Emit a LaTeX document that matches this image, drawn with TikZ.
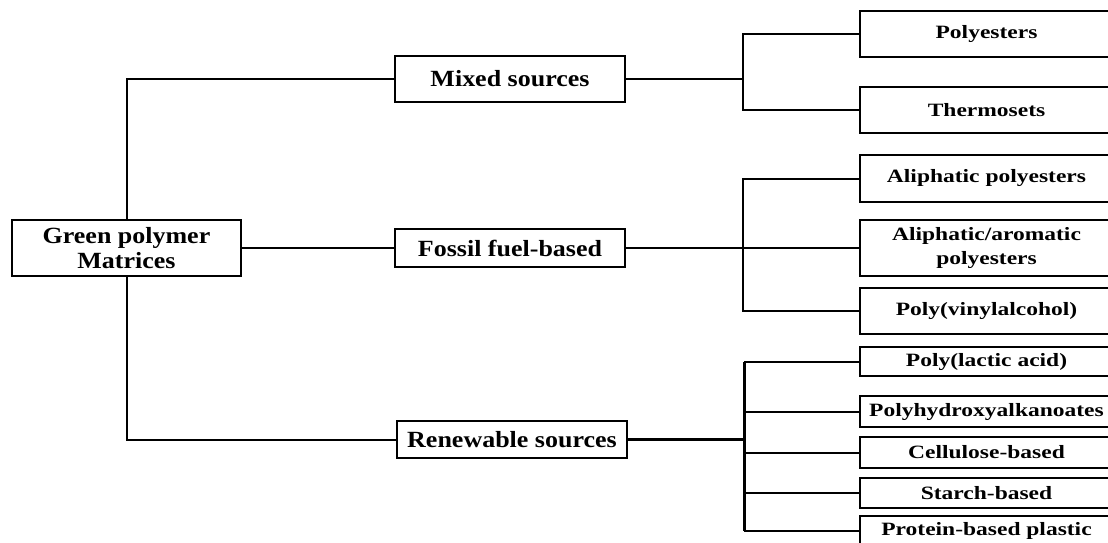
\documentclass[tikz,border=0pt]{standalone}
\usepackage{fontspec}
\setmainfont{Liberation Serif}
\newfontfamily\midfont{Liberation Serif}[FakeStretch=1.12]
\newfontfamily\rightfont{Liberation Serif}[FakeStretch=1.25]
\begin{document}
\begin{tikzpicture}[x=0.5pt,y=-0.5pt,
  box/.style={draw=black,line width=1pt,rectangle,inner sep=0pt,align=center,fill=white},
  leftbox/.style={box,minimum width=114.5pt,minimum height=28pt,font=\midfont\fontsize{11.6}{12.5}\selectfont\bfseries},
  midbox/.style={box,minimum width=115pt,font=\midfont\fontsize{11.6}{12.5}\selectfont\bfseries},
  rightbox/.style={box,minimum width=126.5pt,font=\rightfont\fontsize{9.4}{11.7}\selectfont\bfseries},
  conn/.style={line width=1pt},
  thickconn/.style={line width=1.5pt}]
\useasboundingbox (0,0) rectangle (1108,542);
\clip (0,0) rectangle (1108,542);
\fill[white] (0,0) rectangle (1108,542);
% left
\node[leftbox] (green) at (126.5,248) {Green polymer\\Matrices};
% middle
\node[midbox,minimum height=23pt] (mixed) at (510,79) {Mixed sources};
\node[midbox,minimum height=19pt] (fossil) at (510,248) {Fossil fuel-based};
\node[midbox,minimum height=18.5pt] (renew) at (512,439.5) {Renewable sources};
% right
\node[rightbox,minimum height=23pt] (poly) at (986.5,34) {Polyesters};
\node[rightbox,minimum height=23pt] (thermo) at (986.5,110) {Thermosets};
\node[rightbox,minimum height=23.5pt] (aliph) at (986.5,178.5) {Aliphatic polyesters};
\node[rightbox,minimum height=28pt] (aliarom) at (986.5,248) {Aliphatic/aromatic\\polyesters};
\node[rightbox,minimum height=23pt] (pva) at (986.5,311) {Poly(vinylalcohol)};
\node[rightbox,minimum height=14.5pt] (pla) at (986.5,361.5) {Poly(lactic acid)};
\node[rightbox,minimum height=15.5pt] (pha) at (986.5,411.5) {Polyhydroxyalkanoates};
\node[rightbox,minimum height=15.5pt] (cell) at (986.5,452.5) {Cellulose-based};
\node[rightbox,minimum height=15pt] (starch) at (986.5,493) {Starch-based};
\node[rightbox,minimum height=15pt] (prot) at (986.5,531) {Protein-based plastic};
% bracket coordinates
\coordinate (bm) at (743,79);
\coordinate (bf) at (743,248);
\coordinate (br) at (744,439.5);
% connectors left
\draw[conn] (green.north) |- (mixed.west);
\draw[conn] (green.east) -- (fossil.west);
\draw[conn] (green.south) |- (renew.west);
% mixed
\draw[conn] (mixed.east) -- (bm);
\draw[conn] (bm) |- (poly.west);
\draw[conn] (bm) |- (thermo.west);
% fossil
\draw[conn] (fossil.east) -- (bf);
\draw[conn] (bf) |- (aliph.west);
\draw[conn] (bf) -- (aliarom.west);
\draw[conn] (bf) |- (pva.west);
% renewable
\draw[thickconn] (renew.east) -- (br);
\draw[thickconn] (br |- pla.west) -- (br |- prot.west);
\draw[conn] (br |- pla.west) -- (pla.west);
\draw[conn] (br |- pha.west) -- (pha.west);
\draw[conn] (br |- cell.west) -- (cell.west);
\draw[conn] (br |- starch.west) -- (starch.west);
\draw[conn] (br |- prot.west) -- (prot.west);
\end{tikzpicture}
\end{document}
